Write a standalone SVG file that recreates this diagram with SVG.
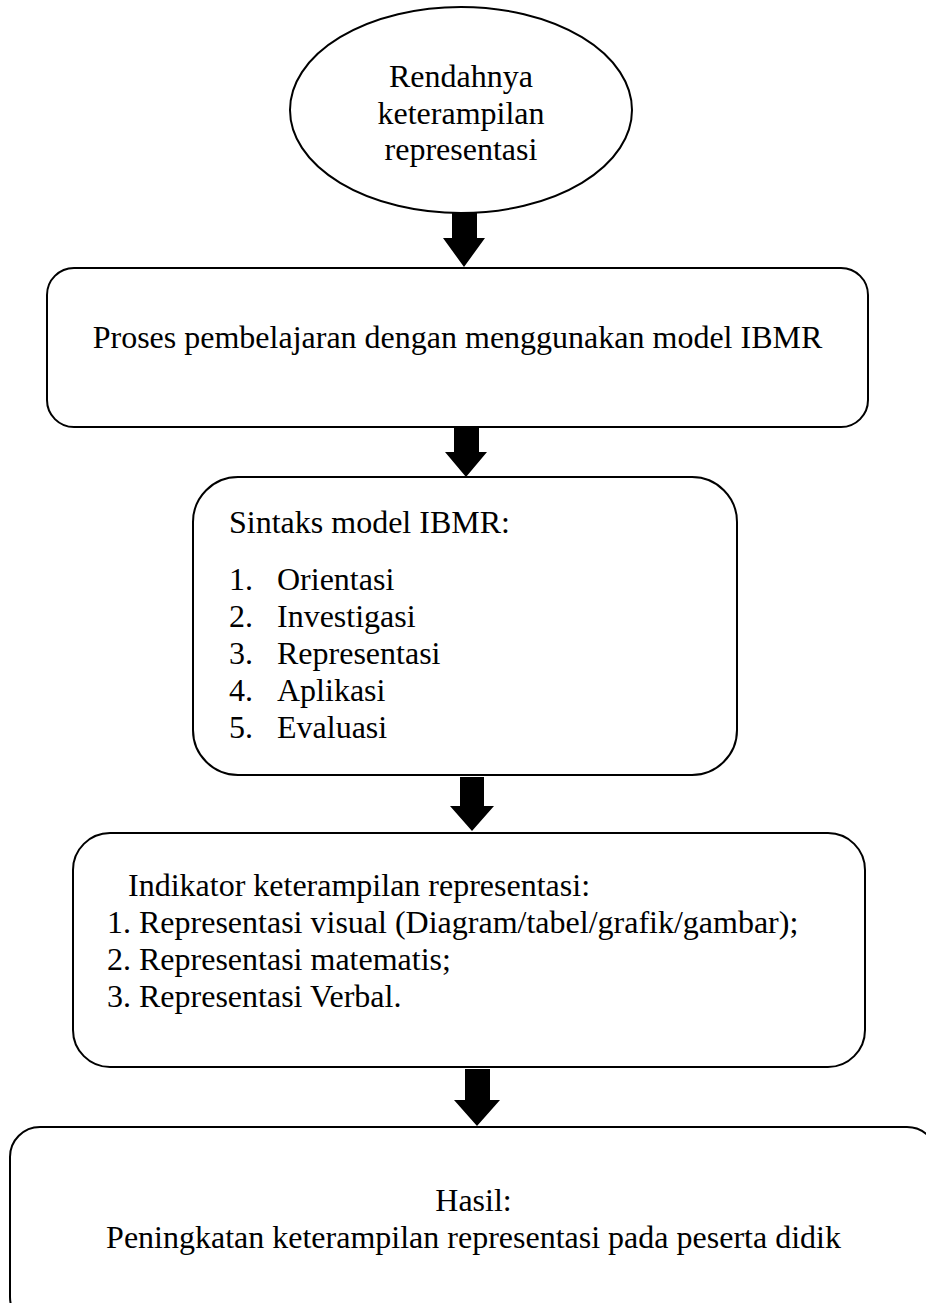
<svg xmlns="http://www.w3.org/2000/svg" width="926" height="1303" viewBox="0 0 926 1303">
<style>
.n{fill:#fff;stroke:#000;stroke-width:2}
.t{font-family:"Liberation Serif","Times New Roman",serif;font-size:32px;fill:#000}
.c{text-anchor:middle}
.a{fill:#000;stroke:none}
</style>
<rect width="926" height="1303" fill="#fff"/>
<g id="node-rendah">
<ellipse class="n" cx="461" cy="110" rx="171" ry="103" stroke-width="1.6"/>
<text class="t c" x="461" y="87">Rendahnya</text>
<text class="t c" x="461" y="124">keterampilan</text>
<text class="t c" x="461" y="160">representasi</text>
</g>
<g id="node-proses">
<rect class="n" x="47" y="268" width="821" height="159" rx="27" ry="27"/>
<text class="t c" x="457.5" y="348">Proses pembelajaran dengan menggunakan model IBMR</text>
</g>
<g id="node-sintaks">
<rect class="n" x="193" y="477" width="544" height="298" rx="45" ry="45"/>
<text class="t" x="229" y="533">Sintaks model IBMR:</text>
<text class="t" x="229" y="590">1.</text><text class="t" x="277" y="590">Orientasi</text>
<text class="t" x="229" y="627">2.</text><text class="t" x="277" y="627">Investigasi</text>
<text class="t" x="229" y="664">3.</text><text class="t" x="277" y="664">Representasi</text>
<text class="t" x="229" y="701">4.</text><text class="t" x="277" y="701">Aplikasi</text>
<text class="t" x="229" y="738">5.</text><text class="t" x="277" y="738">Evaluasi</text>
</g>
<g id="node-indikator">
<rect class="n" x="73" y="833" width="792" height="234" rx="37" ry="37"/>
<text class="t" x="128" y="896">Indikator keterampilan representasi:</text>
<text class="t" x="107" y="933">1. Representasi visual (Diagram/tabel/grafik/gambar);</text>
<text class="t" x="107" y="970">2. Representasi matematis;</text>
<text class="t" x="107" y="1007">3. Representasi Verbal.</text>
</g>
<g id="node-hasil">
<rect class="n" x="10" y="1127" width="927" height="200" rx="30" ry="30"/>
<text class="t c" x="473.5" y="1211">Hasil:</text>
<text class="t c" x="473.5" y="1248">Peningkatan keterampilan representasi pada peserta didik</text>
</g>
<g id="connectors">
<polygon class="a" points="452,213 477,213 477,238 485,238 464,267 443,238 452,238"/>
<polygon class="a" points="454,428 479,428 479,452 487,452 466,477 445,452 454,452"/>
<polygon class="a" points="460,777 484,777 484,806 494,806 472,831 450,806 460,806"/>
<polygon class="a" points="465,1069 490,1069 490,1100 500,1100 477,1126 454,1100 465,1100"/>
</g>
</svg>
